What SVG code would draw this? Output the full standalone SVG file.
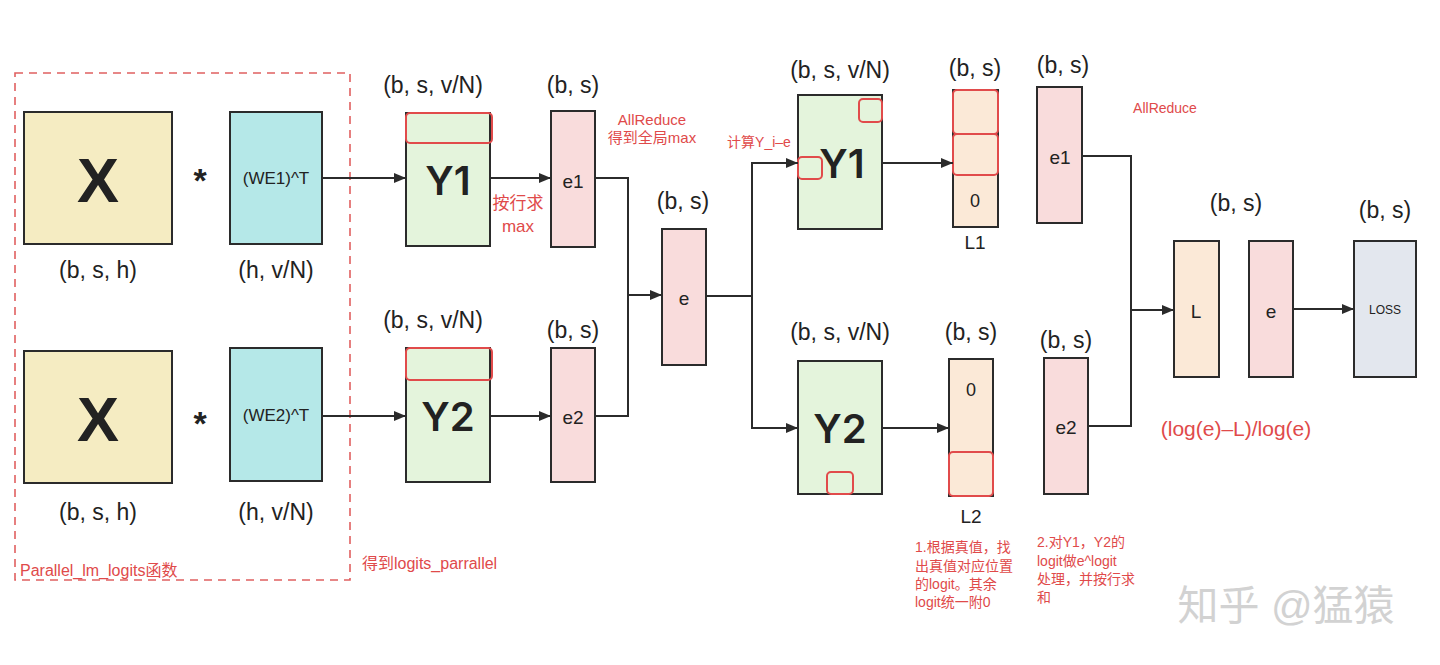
<svg xmlns="http://www.w3.org/2000/svg" width="1440" height="665" viewBox="0 0 1440 665">
<defs>
<marker id="ah" viewBox="0 0 12 10" refX="12" refY="5" markerWidth="12" markerHeight="10" markerUnits="userSpaceOnUse" orient="auto">
<path d="M0,0 L12,5 L0,10 z" fill="#2b2b2b"/>
</marker>
<style>
text{font-family:"Liberation Sans","Noto Sans CJK SC",sans-serif;text-anchor:middle;dominant-baseline:central;fill:#222}
.box{stroke:#2b2b2b;stroke-width:2}
.xf{fill:#f5ecc2}.wf{fill:#b5e8e8}.gf{fill:#e4f4dc}.pf{fill:#f9dcdc}.of{fill:#fbe9d7}.lf{fill:#e3e7ee}
.hl{fill:none;stroke:#e14b4b;stroke-width:2}
.dim{font-size:23px}
.big{font-size:63px;font-weight:bold}
.ybig{font-family:Inter,"Liberation Sans",sans-serif;font-size:40px;font-weight:600}
.lab{font-size:19px}
.ann{font-size:14px;text-anchor:start;fill:#e04a4a}
.con{fill:none;stroke:#2b2b2b;stroke-width:2}
</style>
</defs>
<rect width="1440" height="665" fill="#ffffff"/>

<g id="parallel-box">
<rect x="15" y="73" width="335" height="507" fill="none" stroke="#e06060" stroke-width="1.6" stroke-dasharray="8,6"/>
<text x="20" y="570" style="font-size:16px;text-anchor:start;fill:#e04a4a">Parallel_lm_logits函数</text>
</g>

<g id="x1">
<rect class="box xf" x="24" y="112" width="148" height="132"/>
<text class="big" x="98" y="180">X</text>
<text class="dim" x="98" y="270">(b, s, h)</text>
</g>
<text x="200" y="180" style="font-size:34px;font-weight:bold">*</text>
<g id="we1">
<rect class="box wf" x="230" y="112" width="92" height="132"/>
<text x="276" y="178" style="font-size:17px">(WE1)^T</text>
<text class="dim" x="276" y="270">(h, v/N)</text>
</g>

<g id="x2">
<rect class="box xf" x="24" y="351" width="148" height="132"/>
<text class="big" x="98" y="419">X</text>
<text class="dim" x="98" y="512">(b, s, h)</text>
</g>
<text x="200" y="423" style="font-size:34px;font-weight:bold">*</text>
<g id="we2">
<rect class="box wf" x="230" y="348" width="92" height="133"/>
<text x="276" y="415" style="font-size:17px">(WE2)^T</text>
<text class="dim" x="276" y="512">(h, v/N)</text>
</g>

<text x="362" y="563" style="font-size:16px;text-anchor:start;fill:#e04a4a">得到logits_parrallel</text>

<g id="y1a">
<text class="dim" x="433" y="85">(b, s, v/N)</text>
<rect class="box gf" x="406" y="113" width="84" height="133"/>
<rect class="hl" x="406" y="113" width="86" height="30" rx="4"/>
<text class="ybig" x="448" y="180">Y1</text>
</g>
<g id="e1a">
<text class="dim" x="573" y="85">(b, s)</text>
<rect class="box pf" x="551" y="111" width="44" height="136"/>
<text class="lab" x="573" y="181">e1</text>
</g>
<text x="518" y="203" style="font-size:17px;fill:#e04a4a">按行求</text>
<text x="518" y="226" style="font-size:17px;fill:#e04a4a">max</text>
<text x="652" y="119" style="font-size:15px;fill:#e04a4a">AllReduce</text>
<text x="652" y="137" style="font-size:15px;fill:#e04a4a">得到全局max</text>

<g id="y2a">
<text class="dim" x="433" y="320">(b, s, v/N)</text>
<rect class="box gf" x="406" y="348" width="84" height="134"/>
<rect class="hl" x="406" y="348" width="86" height="32" rx="4"/>
<text class="ybig" x="448" y="416">Y2</text>
</g>
<g id="e2a">
<text class="dim" x="573" y="330">(b, s)</text>
<rect class="box pf" x="551" y="348" width="44" height="134"/>
<text class="lab" x="573" y="417">e2</text>
</g>

<g id="e-mid">
<text class="dim" x="683" y="201">(b, s)</text>
<rect class="box pf" x="662" y="229" width="44" height="136"/>
<text class="lab" x="684" y="298">e</text>
</g>

<text x="759" y="142" style="font-size:14px;fill:#e04a4a">计算Y_i–e</text>

<g id="y1b">
<text class="dim" x="840" y="70">(b, s, v/N)</text>
<rect class="box gf" x="798" y="95" width="84" height="134"/>
<rect class="hl" x="859" y="99" width="23" height="23" rx="4"/>
<rect class="hl" x="798" y="157" width="24" height="22" rx="4"/>
<text class="ybig" x="842" y="163">Y1</text>
</g>
<g id="l1">
<text class="dim" x="975" y="68">(b, s)</text>
<rect class="box of" x="953" y="90" width="45" height="137"/>
<rect class="hl" x="953" y="90" width="45" height="44" rx="4"/>
<rect class="hl" x="953" y="134" width="45" height="41" rx="4"/>
<text x="975" y="201" style="font-size:18px">0</text>
<text class="lab" x="975" y="242">L1</text>
</g>
<g id="e1b">
<text class="dim" x="1063" y="65">(b, s)</text>
<rect class="box pf" x="1037" y="87" width="45" height="136"/>
<text class="lab" x="1060" y="157">e1</text>
</g>
<text x="1165" y="108" style="font-size:14px;fill:#e04a4a">AllReduce</text>

<g id="y2b">
<text class="dim" x="840" y="332">(b, s, v/N)</text>
<rect class="box gf" x="798" y="361" width="84" height="133"/>
<rect class="hl" x="827" y="472" width="26" height="22" rx="4"/>
<text class="ybig" x="840" y="428">Y2</text>
</g>
<g id="l2">
<text class="dim" x="971" y="332">(b, s)</text>
<rect class="box of" x="949" y="359" width="44" height="137"/>
<rect class="hl" x="949" y="452" width="44" height="44" rx="4"/>
<text x="971" y="390" style="font-size:18px">0</text>
<text class="lab" x="971" y="516">L2</text>
</g>
<g id="e2b">
<text class="dim" x="1066" y="340">(b, s)</text>
<rect class="box pf" x="1044" y="358" width="44" height="136"/>
<text class="lab" x="1066" y="427">e2</text>
</g>

<g id="l-final">
<text class="dim" x="1236" y="203">(b, s)</text>
<rect class="box of" x="1174" y="241" width="45" height="136"/>
<text class="lab" x="1196" y="311">L</text>
</g>
<g id="e-final">
<rect class="box pf" x="1249" y="241" width="44" height="136"/>
<text class="lab" x="1271" y="311">e</text>
</g>
<g id="loss">
<text class="dim" x="1385" y="210">(b, s)</text>
<rect class="box lf" x="1354" y="241" width="62" height="136"/>
<text x="1385" y="310" style="font-size:12px">LOSS</text>
</g>
<text x="1236" y="428" style="font-size:21px;fill:#e04a4a">(log(e)–L)/log(e)</text>

<g id="notes">
<text class="ann" x="915" y="547">1.根据真值，找</text>
<text class="ann" x="915" y="566">出真值对应位置</text>
<text class="ann" x="915" y="584">的logit。其余</text>
<text class="ann" x="915" y="602">logit统一附0</text>
<text class="ann" x="1037" y="542">2.对Y1，Y2的</text>
<text class="ann" x="1037" y="561">logit做e^logit</text>
<text class="ann" x="1037" y="579">处理，并按行求</text>
<text class="ann" x="1037" y="597">和</text>
</g>

<text x="1286" y="606" style="font-size:41px;fill:#d2d2d2">知乎 @猛猿</text>

<g id="connectors">
<path class="con" d="M322,178 H406" marker-end="url(#ah)"/>
<path class="con" d="M322,416 H406" marker-end="url(#ah)"/>
<path class="con" d="M490,178 H551" marker-end="url(#ah)"/>
<path class="con" d="M490,416 H551" marker-end="url(#ah)"/>
<path class="con" d="M595,178 H628 V416 H595"/>
<path class="con" d="M628,295 H662" marker-end="url(#ah)"/>
<path class="con" d="M706,296 H752"/>
<path class="con" d="M752,428 V163 H798" marker-end="url(#ah)"/>
<path class="con" d="M752,300 V428 H798" marker-end="url(#ah)"/>
<path class="con" d="M882,163 H953" marker-end="url(#ah)"/>
<path class="con" d="M882,428 H949" marker-end="url(#ah)"/>
<path class="con" d="M1082,156 H1131 V426 H1088"/>
<path class="con" d="M1131,310 H1174" marker-end="url(#ah)"/>
<path class="con" d="M1293,309 H1354" marker-end="url(#ah)"/>
</g>
</svg>
